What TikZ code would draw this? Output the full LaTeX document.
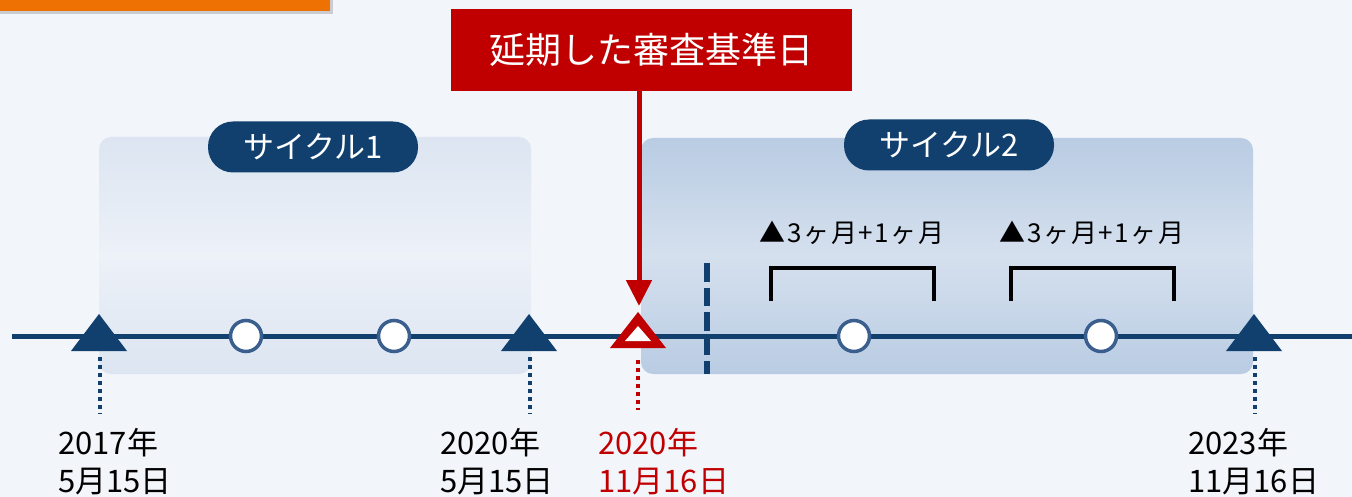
\documentclass[tikz,border=0pt]{standalone}
\usepackage{fontspec}
\setmainfont{Noto Sans CJK JP}
\usetikzlibrary{arrows.meta,shadows}
\definecolor{bg}{HTML}{F2F5FA}
\definecolor{navy}{HTML}{11406F}
\definecolor{ring}{HTML}{3A5F8F}
\definecolor{deepred}{HTML}{C00000}
\definecolor{orangebar}{HTML}{EE7203}
\definecolor{cAtop}{HTML}{DCE5F1}
\definecolor{cAmid}{HTML}{EDF1F8}
\definecolor{cBtop}{HTML}{B9CCE3}
\definecolor{cBmid}{HTML}{D5E0EE}
\tikzset{
  pill/.style={fill=navy, text=white, rounded corners=25pt, minimum width=210pt, minimum height=51pt, inner sep=0pt, font=\fontsize{31}{36}\selectfont},
  mark circ/.style={circle, draw=ring, line width=3.5pt, fill=white, minimum size=31pt, inner sep=0pt},
  datetext/.style={anchor=base west, inner sep=0pt, font=\fontsize{31}{36}\selectfont},
  gaptext/.style={anchor=base, inner sep=0pt, font=\fontsize{26}{30}\selectfont\addfontfeatures{LetterSpace=6}},
  dotline/.style={line width=3.5pt, dash pattern=on 3.5pt off 4.5pt},
  bracketline/.style={line width=4pt, black},
}
\begin{document}
\begin{tikzpicture}[x=1pt,y=-1pt]
\useasboundingbox (0,0) rectangle (1352,497);
\clip (0,0) rectangle (1352,497);
\fill[bg] (0,0) rectangle (1352,497);
% orange bar
\fill[orangebar, drop shadow={shadow xshift=3pt, shadow yshift=-3pt, opacity=0.35}] (-20,-20) rectangle (330,11);
% cycle boxes
\shade[rounded corners=12pt, top color=cAtop, bottom color=cAtop, middle color=cAmid] (99,137) rectangle (531,374);
\shade[rounded corners=12pt, top color=cBtop, bottom color=cBtop, middle color=cBmid] (641,138) rectangle (1253,374);
% pills
\node[pill] (c1) at (313,147) {サイクル1};
\node[pill] (c2) at (949,145) {サイクル2};
% main line
\coordinate (lineL) at (12,336);
\coordinate (lineR) at (1352,336);
\draw[navy, line width=5pt] (lineL) -- (lineR);
% dashed vertical
\coordinate (dA) at (707,263);
\coordinate (dB) at (707,374);
\draw[navy, line width=5.5pt, dash pattern=on 18.5pt off 6pt] (dA) -- (dB);
% brackets
\coordinate (b1a) at (771,301); \coordinate (b1b) at (934,301);
\coordinate (b2a) at (1011,301); \coordinate (b2b) at (1174,301);
\draw[bracketline] (b1a) -- ++(0,-33) -| (b1b);
\draw[bracketline] (b2a) -- ++(0,-33) -| (b2b);
\node[gaptext] (g1) at (852,243) {▲3ヶ月+1ヶ月};
\node[gaptext] (g2) at (1092,243) {▲3ヶ月+1ヶ月};
% circles
\node[mark circ] (o1) at (246,336) {};
\node[mark circ] (o2) at (394,336) {};
\node[mark circ] (o3) at (854,336) {};
\node[mark circ] (o4) at (1101,336) {};
% navy triangles
\foreach \n/\x in {t1/99, t2/529, t4/1254} {
  \coordinate (\n) at (\x,336);
  \fill[navy] (\x,314) -- (\x+28,351) -- (\x-28,351) -- cycle;
}
% red hollow triangle
\coordinate (t3) at (638,336);
\fill[deepred] (638,312) -- (666,348) -- (610,348) -- cycle;
\fill[white] (638,326) -- (651,341) -- (625,341) -- cycle;
% dotted drops
\coordinate (e1) at (100,414);
\coordinate (e2) at (530,414);
\coordinate (e4) at (1255,414);
\coordinate (e3) at (638,410);
\draw[navy, dotline] (100,357) -- (e1);
\draw[navy, dotline] (530,357) -- (e2);
\draw[navy, dotline] (1255,357) -- (e4);
\draw[deepred, dotline] (638,360) -- (e3);
% red box and arrow
\node[fill=deepred, text=white, minimum width=401pt, minimum height=82pt, inner sep=0pt, font=\fontsize{36}{42}\selectfont] (rb) at (651.5,50) {延期した審査基準日};
\coordinate (tip) at (639,306);
\draw[deepred, line width=5pt, -{Triangle[length=26pt,width=25pt]}] (rb.south -| tip) -- (tip);
% dates
\node[datetext] (d1a) at (58,454) {2017年};
\node[datetext] (d1b) at (58,492) {5月15日};
\node[datetext] (d2a) at (440,454) {2020年};
\node[datetext] (d2b) at (440,492) {5月15日};
\node[datetext, text=deepred] (d3a) at (598,454) {2020年};
\node[datetext, text=deepred] (d3b) at (598,492) {11月16日};
\node[datetext] (d4a) at (1188,454) {2023年};
\node[datetext] (d4b) at (1188,492) {11月16日};
\end{tikzpicture}
\end{document}
